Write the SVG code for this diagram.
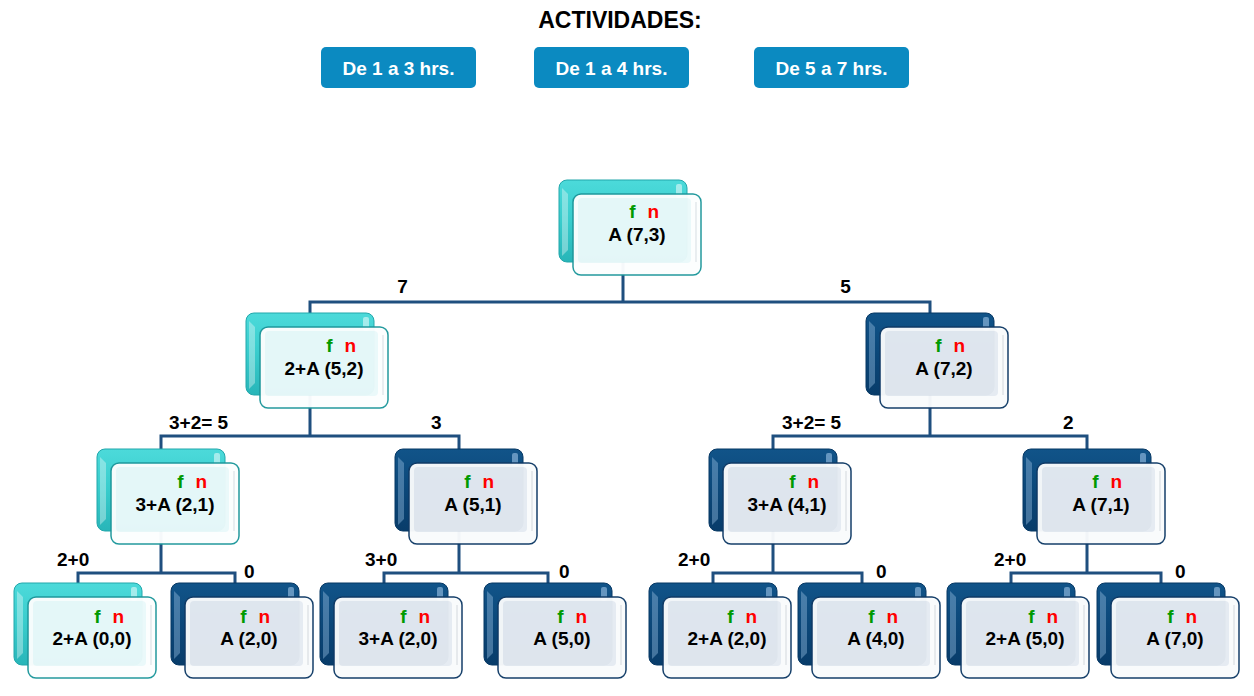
<svg xmlns="http://www.w3.org/2000/svg" xmlns:xlink="http://www.w3.org/1999/xlink" width="1254" height="696" viewBox="0 0 1254 696">
<defs>
<linearGradient id="gT" x1="0" y1="0" x2="0" y2="1">
<stop offset="0" stop-color="#4cdada"/><stop offset="0.5" stop-color="#38cccc"/><stop offset="1" stop-color="#28b5b8"/>
</linearGradient>
<linearGradient id="gD" x1="0" y1="0" x2="0" y2="1">
<stop offset="0" stop-color="#115489"/><stop offset="0.5" stop-color="#0b4779"/><stop offset="1" stop-color="#083c6a"/>
</linearGradient>
<symbol id="boxT" overflow="visible">
<rect x="0" y="0" width="128" height="82" rx="8" fill="url(#gT)" stroke="#22a7ab" stroke-width="1"/>
<path d="M3 8 L9 14 L9 70 L3 76 Z" fill="#ffffff" opacity="0.35"/>
<rect x="117" y="4" width="6" height="14" rx="2" fill="#ffffff" opacity="0.5"/>
<g opacity="0.97">
<rect x="14" y="14" width="128" height="81" rx="8" fill="#fcfefe" stroke="#1c979b" stroke-width="1.5"/>
<rect x="19" y="18" width="113" height="65" rx="4" fill="#eaf9fa"/>
<line x1="137" y1="22" x2="137" y2="82" stroke="#d6dde2" stroke-width="1"/>
</g>
</symbol>
<symbol id="boxD" overflow="visible">
<rect x="0" y="0" width="128" height="82" rx="8" fill="url(#gD)" stroke="#073864" stroke-width="1"/>
<path d="M3 8 L9 14 L9 70 L3 76 Z" fill="#8fb5da" opacity="0.45"/>
<rect x="117" y="4" width="6" height="14" rx="2" fill="#9cc3e6" opacity="0.6"/>
<g opacity="0.97">
<rect x="14" y="14" width="128" height="81" rx="8" fill="#f9fbfc" stroke="#0f3a66" stroke-width="1.5"/>
<rect x="19" y="18" width="113" height="65" rx="4" fill="#e5ebf2"/>
<line x1="137" y1="22" x2="137" y2="82" stroke="#d3d8dd" stroke-width="1"/>
</g>
</symbol>
</defs>
<style>
.t{font-family:"Liberation Sans",Arial,sans-serif;font-weight:bold;}
.main{font-size:19px;fill:#000;text-anchor:middle;}
.fn{font-size:19px;text-anchor:end;}
.g{fill:#009a00;}
.r{fill:#ff0000;}
.lbl{font-size:19px;fill:#000;}
.btn{fill:#0b8ac1;}
.btxt{font-size:19px;fill:#fff;text-anchor:middle;}
.conn{fill:none;stroke:#1f4f7f;stroke-width:3;}
</style>
<rect width="1254" height="696" fill="#ffffff"/>

<g id="header">
<text class="t" x="620" y="28" font-size="23" text-anchor="middle" fill="#000">ACTIVIDADES:</text>
<rect class="btn" x="321" y="47" width="155" height="41" rx="5"/>
<text class="t btxt" x="398.5" y="75">De 1 a 3 hrs.</text>
<rect class="btn" x="534" y="47" width="155" height="41" rx="5"/>
<text class="t btxt" x="611.5" y="75">De 1 a 4 hrs.</text>
<rect class="btn" x="754" y="47" width="155" height="41" rx="5"/>
<text class="t btxt" x="831.5" y="75">De 5 a 7 hrs.</text>
</g>

<g id="connectors">
<path class="conn" d="M623 262 V302 M310 313 V302 H930 V313"/>
<path class="conn" d="M310 395 V436 M161 449 V436 H459 V449"/>
<path class="conn" d="M930 395 V436 M773 449 V436 H1087 V449"/>
<path class="conn" d="M161 531 V573 M78 583 V573 H235 V583"/>
<path class="conn" d="M459 531 V573 M384 583 V573 H548 V583"/>
<path class="conn" d="M773 531 V573 M713 583 V573 H862 V583"/>
<path class="conn" d="M1087 531 V573 M1011 583 V573 H1161 V583"/>
<text class="t lbl" x="402.5" y="293" text-anchor="middle">7</text>
<text class="t lbl" x="845.5" y="293" text-anchor="middle">5</text>
<text class="t lbl" x="169" y="429">3+2= 5</text>
<text class="t lbl" x="431" y="429">3</text>
<text class="t lbl" x="782" y="429">3+2= 5</text>
<text class="t lbl" x="1063" y="429">2</text>
<text class="t lbl" x="57" y="566">2+0</text>
<text class="t lbl" x="244" y="578">0</text>
<text class="t lbl" x="365" y="566">3+0</text>
<text class="t lbl" x="559" y="578">0</text>
<text class="t lbl" x="678" y="566">2+0</text>
<text class="t lbl" x="876" y="578">0</text>
<text class="t lbl" x="994" y="566">2+0</text>
<text class="t lbl" x="1175" y="578">0</text>
</g>

<g id="node-root">
<use xlink:href="#boxT" x="559" y="180"/>
<text class="t fn" x="659" y="218"><tspan class="g">f</tspan><tspan class="r" dx="11.7">n</tspan></text>
<text class="t main" x="637" y="241">A (7,3)</text>
</g>
<g id="node-1L">
<use xlink:href="#boxT" x="246" y="313"/>
<text class="t fn" x="356" y="352"><tspan class="g">f</tspan><tspan class="r" dx="11.7">n</tspan></text>
<text class="t main" x="324" y="375">2+A (5,2)</text>
</g>
<g id="node-1R">
<use xlink:href="#boxD" x="866" y="313"/>
<text class="t fn" x="965" y="352"><tspan class="g">f</tspan><tspan class="r" dx="11.7">n</tspan></text>
<text class="t main" x="944" y="375">A (7,2)</text>
</g>
<g id="node-2a">
<use xlink:href="#boxT" x="97" y="449"/>
<text class="t fn" x="207" y="488"><tspan class="g">f</tspan><tspan class="r" dx="11.7">n</tspan></text>
<text class="t main" x="175" y="511">3+A (2,1)</text>
</g>
<g id="node-2b">
<use xlink:href="#boxD" x="395" y="449"/>
<text class="t fn" x="494" y="488"><tspan class="g">f</tspan><tspan class="r" dx="11.7">n</tspan></text>
<text class="t main" x="473" y="511">A (5,1)</text>
</g>
<g id="node-2c">
<use xlink:href="#boxD" x="709" y="449"/>
<text class="t fn" x="819" y="488"><tspan class="g">f</tspan><tspan class="r" dx="11.7">n</tspan></text>
<text class="t main" x="787" y="511">3+A (4,1)</text>
</g>
<g id="node-2d">
<use xlink:href="#boxD" x="1023" y="449"/>
<text class="t fn" x="1122" y="488"><tspan class="g">f</tspan><tspan class="r" dx="11.7">n</tspan></text>
<text class="t main" x="1101" y="511">A (7,1)</text>
</g>
<g id="node-3a">
<use xlink:href="#boxT" x="14" y="583"/>
<text class="t fn" x="124" y="623"><tspan class="g">f</tspan><tspan class="r" dx="11.7">n</tspan></text>
<text class="t main" x="92" y="645">2+A (0,0)</text>
</g>
<g id="node-3b">
<use xlink:href="#boxD" x="171" y="583"/>
<text class="t fn" x="270" y="623"><tspan class="g">f</tspan><tspan class="r" dx="11.7">n</tspan></text>
<text class="t main" x="249" y="645">A (2,0)</text>
</g>
<g id="node-3c">
<use xlink:href="#boxD" x="320" y="583"/>
<text class="t fn" x="430" y="623"><tspan class="g">f</tspan><tspan class="r" dx="11.7">n</tspan></text>
<text class="t main" x="398" y="645">3+A (2,0)</text>
</g>
<g id="node-3d">
<use xlink:href="#boxD" x="484" y="583"/>
<text class="t fn" x="587" y="623"><tspan class="g">f</tspan><tspan class="r" dx="11.7">n</tspan></text>
<text class="t main" x="562" y="645">A (5,0)</text>
</g>
<g id="node-3e">
<use xlink:href="#boxD" x="649" y="583"/>
<text class="t fn" x="757" y="623"><tspan class="g">f</tspan><tspan class="r" dx="11.7">n</tspan></text>
<text class="t main" x="727" y="645">2+A (2,0)</text>
</g>
<g id="node-3f">
<use xlink:href="#boxD" x="798" y="583"/>
<text class="t fn" x="898" y="623"><tspan class="g">f</tspan><tspan class="r" dx="11.7">n</tspan></text>
<text class="t main" x="876" y="645">A (4,0)</text>
</g>
<g id="node-3g">
<use xlink:href="#boxD" x="947" y="583"/>
<text class="t fn" x="1058" y="623"><tspan class="g">f</tspan><tspan class="r" dx="11.7">n</tspan></text>
<text class="t main" x="1025" y="645">2+A (5,0)</text>
</g>
<g id="node-3h">
<use xlink:href="#boxD" x="1097" y="583"/>
<text class="t fn" x="1197" y="623"><tspan class="g">f</tspan><tspan class="r" dx="11.7">n</tspan></text>
<text class="t main" x="1175" y="645">A (7,0)</text>
</g>
</svg>
